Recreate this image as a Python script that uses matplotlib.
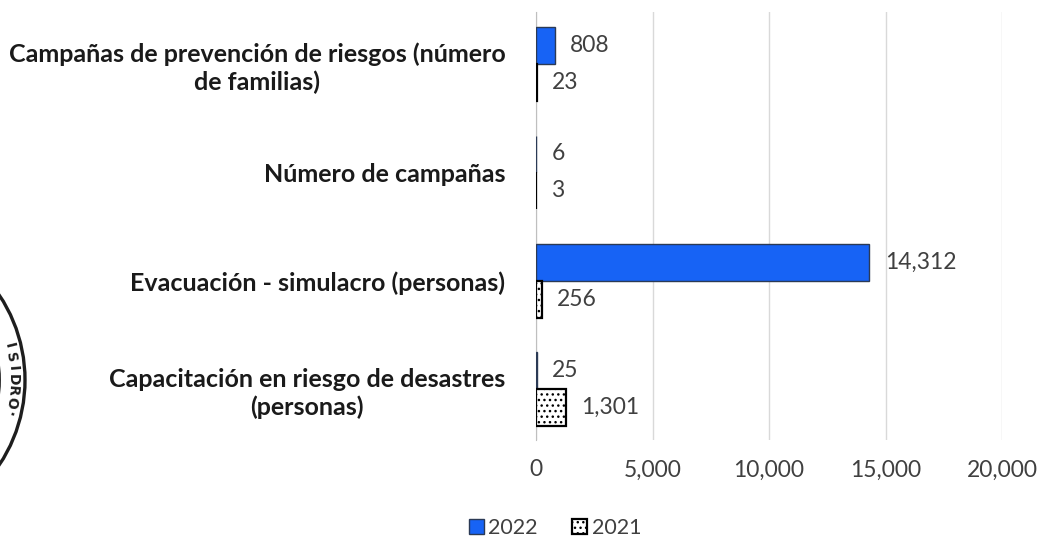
import matplotlib.pyplot as plt
import numpy as np
from matplotlib.patches import Circle

plt.rcParams['font.family'] = ['Lato', 'DejaVu Sans']

categories = ["Campañas de prevención de riesgos (número\nde familias)",
              "Número de campañas",
              "Evacuación - simulacro (personas)",
              "Capacitación en riesgo de desastres\n(personas)"]
vals_2022 = [808, 6, 14312, 25]
vals_2021 = [23, 3, 256, 1301]
years = ["2022", "2021"]

fig = plt.figure(figsize=(10.43, 5.40), dpi=100)

# background stamp on the left edge (partly cut off)
bg = fig.add_axes([0, 0, 1, 1], zorder=0)
bg.set_xlim(0, 1043)
bg.set_ylim(540, 0)
bg.axis('off')
cx, cy = -128, 380
bg.add_patch(Circle((cx, cy), 153, fill=False, lw=2.4, ec='#1e1e1e'))
bg.add_patch(Circle((cx, cy), 128, fill=False, lw=1.3, ec='#1e1e1e'))
stamp_text = "ISIDRO·"
for i, ch in enumerate(stamp_text):
    ang = np.radians(14 - i * 4.6)
    bg.text(cx + 141 * np.cos(ang), cy - 141 * np.sin(ang), ch,
            rotation=np.degrees(ang) - 90, ha='center', va='center',
            fontsize=10, color='#1e1e1e', family='DejaVu Sans', weight='bold')

ax = fig.add_axes([536 / 1043, 1 - 440 / 540, (1002 - 536) / 1043, (440 - 12) / 540], zorder=1)
ax.patch.set_alpha(0)

y = np.arange(len(categories))
h = 0.34
b1 = ax.barh(y - h / 2, vals_2022, height=h, color='#1763f5', edgecolor='#2b3a55',
             lw=1.0, label=years[0], zorder=3)
b2 = ax.barh(y + h / 2, vals_2021, height=h, color='white', edgecolor='black',
             lw=1.6, hatch='...', label=years[1], zorder=3)

for bars, vals in ((b1, vals_2022), (b2, vals_2021)):
    for bar, v in zip(bars, vals):
        ax.annotate(f"{v:,}", (bar.get_width(), bar.get_y() + bar.get_height() / 2),
                    xytext=(11, 0), textcoords='offset points', va='center', ha='left',
                    fontsize=16.5, color='#404040')

ax.set_ylim(3.47, -0.48)
ax.set_xlim(0, 20000)
ax.set_xticks([0, 5000, 10000, 15000, 20000])
ax.set_xticklabels([f"{t:,}" for t in [0, 5000, 10000, 15000, 20000]])
ax.set_yticks(y)
ax.set_yticklabels(categories, fontweight='bold', fontsize=18, color='#1a1a1a',
                   multialignment='center', linespacing=1.25)
ax.tick_params(axis='y', length=0, pad=22)
ax.tick_params(axis='x', length=0, pad=14, labelsize=16.5, labelcolor='#404040')
ax.grid(axis='x', color='#d9d9d9', lw=1)
ax.set_axisbelow(True)
for s in ['top', 'right', 'bottom']:
    ax.spines[s].set_visible(False)
ax.spines['left'].set_color('#bfbfbf')

fig.legend(loc='center', bbox_to_anchor=(555 / 1043, 1 - 528 / 540), ncol=2, frameon=False,
           fontsize=15.5, handlelength=0.7, handleheight=0.7, handletextpad=0.2,
           columnspacing=1.6, labelcolor='#404040')

plt.savefig('out.png', dpi=100)
